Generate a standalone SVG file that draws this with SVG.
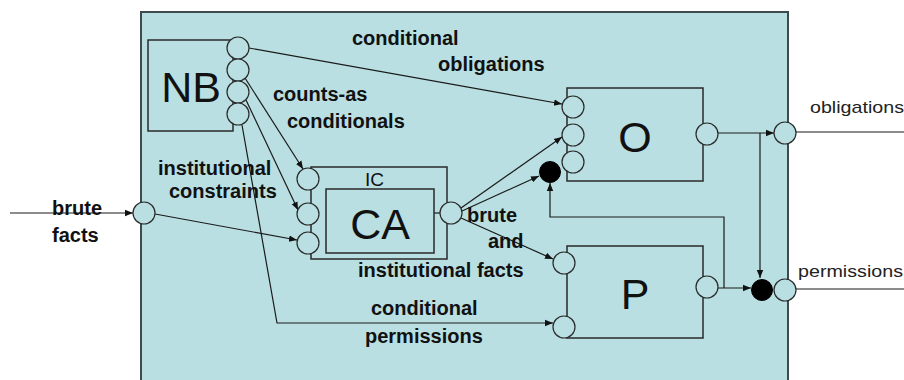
<svg xmlns="http://www.w3.org/2000/svg" width="904" height="380" viewBox="0 0 904 380">
<style>
.frame{fill:#b9dfe2;stroke:#3f4a4c;stroke-width:2}
.box{fill:none;stroke:#2a2a2a;stroke-width:1.5}
.port{fill:#b9dfe2;stroke:#2a2a2a;stroke-width:1.2}
.dot{fill:#000;stroke:#000;stroke-width:1}
.conn{fill:none;stroke:#1a1a1a;stroke-width:1.2}
.arr{marker-end:url(#arr)}
.lbl{font-family:"Liberation Sans",Arial,sans-serif;font-weight:bold;font-size:20px;fill:#111}
.big{font-family:"Liberation Sans",Arial,sans-serif;font-size:43px;fill:#111;text-anchor:middle}
.out{font-family:"Liberation Sans",Arial,sans-serif;font-size:17px;fill:#222}
.ic{font-family:"Liberation Sans",Arial,sans-serif;font-size:19px;fill:#111}
</style>
<defs>
<marker id="arr" viewBox="0 0 10 10" refX="10" refY="5" markerWidth="8" markerHeight="8" markerUnits="userSpaceOnUse" orient="auto">
<path d="M0,1 L10,5 L0,9 z" fill="#111"/>
</marker>
</defs>
<rect class="frame" x="141" y="12" width="647" height="380"/>

<g id="connectors">
<path class="conn arr" d="M249,48 L562,104"/>
<path class="conn arr" d="M245,78 L303,169"/>
<path class="conn arr" d="M246,100 L298,210"/>
<path class="conn arr" d="M242,125 L277,323 L553,323"/>
<path class="conn arr" d="M10,213 L133,213"/>
<path class="conn arr" d="M155,214 L297,240"/>
<path class="conn" d="M434,213 L440,213"/>
<path class="conn arr" d="M461,208 L562,137"/>
<path class="conn arr" d="M462,211 L539,176"/>
<path class="conn arr" d="M461,218 L553,259"/>
<path class="conn arr" d="M718,133 L774,133"/>
<path class="conn arr" d="M760,133 L760,278"/>
<path class="conn arr" d="M718,288 L751,288"/>
<path class="conn arr" d="M724,288 L724,217 L550,217 L550,183"/>
<path class="conn" d="M796,132 L904,132"/>
<path class="conn" d="M796,289 L904,289"/>
</g>

<g id="brute-input">
<circle class="port" cx="144" cy="213" r="11"/>
</g>

<g id="NB">
<rect class="box" x="148" y="40" width="85" height="91"/>
<text class="big" x="191" y="102">NB</text>
<circle class="port" cx="238" cy="48" r="11"/>
<circle class="port" cx="238" cy="70" r="11"/>
<circle class="port" cx="238" cy="92" r="11"/>
<circle class="port" cx="238" cy="114" r="11"/>
</g>

<g id="IC">
<rect class="box" x="311" y="167" width="136" height="92"/>
<text class="ic" x="365" y="186">IC</text>
<circle class="port" cx="308" cy="179" r="11"/>
<circle class="port" cx="308" cy="214" r="11"/>
<circle class="port" cx="308" cy="243" r="11"/>
<circle class="port" cx="451" cy="213" r="11"/>
</g>

<g id="CA">
<rect class="box" x="326" y="189" width="108" height="64"/>
<text class="big" x="380" y="239">CA</text>
</g>

<g id="O">
<rect class="box" x="567" y="88" width="136" height="93"/>
<text class="big" x="635" y="152">O</text>
<circle class="port" cx="573" cy="107" r="11"/>
<circle class="port" cx="573" cy="135" r="11"/>
<circle class="port" cx="573" cy="162" r="11"/>
<circle class="port" cx="707" cy="134" r="11"/>
</g>

<g id="P">
<rect class="box" x="567" y="246" width="136" height="92"/>
<text class="big" x="635" y="309">P</text>
<circle class="port" cx="564" cy="263" r="11"/>
<circle class="port" cx="564" cy="327" r="11"/>
<circle class="port" cx="707" cy="287" r="11"/>
</g>

<g id="join-O">
<circle class="dot" cx="550" cy="172" r="10.5"/>
</g>
<g id="join-P">
<circle class="dot" cx="762" cy="290" r="10.5"/>
</g>
<g id="out-obligations">
<circle class="port" cx="785" cy="133" r="11"/>
<text class="out" x="810" y="113" textLength="94" lengthAdjust="spacingAndGlyphs">obligations</text>
</g>
<g id="out-permissions">
<circle class="port" cx="785" cy="290" r="11"/>
<text class="out" x="798" y="277" textLength="105" lengthAdjust="spacingAndGlyphs">permissions</text>
</g>

<g id="labels">
<text class="lbl" x="352" y="45">conditional</text>
<text class="lbl" x="438" y="71">obligations</text>
<text class="lbl" x="273" y="101">counts-as</text>
<text class="lbl" x="287" y="128">conditionals</text>
<text class="lbl" x="158" y="175">institutional</text>
<text class="lbl" x="169" y="198">constraints</text>
<text class="lbl" x="467" y="222">brute</text>
<text class="lbl" x="488" y="248">and</text>
<text class="lbl" x="358" y="277">institutional facts</text>
<text class="lbl" x="371" y="315">conditional</text>
<text class="lbl" x="365" y="343">permissions</text>
<text class="lbl" x="52" y="215">brute</text>
<text class="lbl" x="52" y="242">facts</text>
</g>
</svg>
